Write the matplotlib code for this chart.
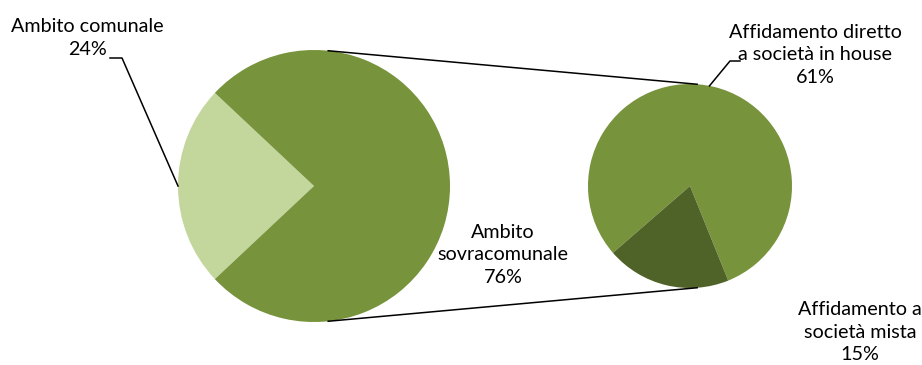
import matplotlib
matplotlib.use("Agg")
import matplotlib.pyplot as plt
import numpy as np

plt.rcParams['font.family'] = ['Lato', 'DejaVu Sans']

# Data
main_labels = ["Ambito comunale", "Ambito\nsovracomunale"]
main_values = [24, 76]
sub_labels = ["Affidamento diretto\na società in house", "Affidamento a\nsocietà mista"]
sub_values = [61, 15]

c_light = "#C3D69B"
c_mid = "#77933C"
c_dark = "#4F6228"

W, H = 922, 365
fig = plt.figure(figsize=(W / 100, H / 100), dpi=100)
ax = fig.add_axes([0, 0, 1, 1])
ax.set_xlim(0, W)
ax.set_ylim(0, H)
ax.set_aspect('equal')
ax.axis('off')

# Main pie
c1 = (314, H - 186)
r1 = 136
start1 = 180 - main_values[0] / sum(main_values) * 360 / 2
ax.pie(main_values, colors=[c_light, c_mid], startangle=start1, counterclock=True,
       center=c1, radius=r1, frame=True, wedgeprops=dict(linewidth=0))

# Sub pie
c2 = (690, H - 186)
r2 = 102
start2 = 292
ax.pie(sub_values, colors=[c_mid, c_dark], startangle=start2, counterclock=True,
       center=c2, radius=r2, frame=True, wedgeprops=dict(linewidth=0))
ax.set_xlim(0, W)
ax.set_ylim(0, H)
ax.axis('off')

# connector lines
for a1, a2 in [(84, 86), (-84, -86)]:
    p1 = (c1[0] + r1 * np.cos(np.radians(a1)), c1[1] + r1 * np.sin(np.radians(a1)))
    p2 = (c2[0] + r2 * np.cos(np.radians(a2)), c2[1] + r2 * np.sin(np.radians(a2)))
    ax.plot([p1[0], p2[0]], [p1[1], p2[1]], color='black', lw=1.1)

fs = 14.2
ls = 1.42
# Labels
ax.text(87, H - 38, f"{main_labels[0]}\n{main_values[0]}%", ha='center', va='center',
        fontsize=fs, linespacing=ls, color='black')
ax.text(503, H - 255, f"{main_labels[1]}\n{main_values[1]}%", ha='center', va='center',
        fontsize=fs, linespacing=ls, color='black')
ax.text(815, H - 55, f"{sub_labels[0]}\n{sub_values[0]}%", ha='center', va='center',
        fontsize=fs, linespacing=ls, color='black')
ax.text(860, H - 332, f"{sub_labels[1]}\n{sub_values[1]}%", ha='center', va='center',
        fontsize=fs, linespacing=ls, color='black')

# leader lines
ax.plot([110, 122, c1[0] - r1], [H - 58, H - 58, c1[1]], color='black', lw=1.1)
a = np.radians(79)
ax.plot([740, 730, c2[0] + r2 * np.cos(a)], [H - 61, H - 61, c2[1] + r2 * np.sin(a)],
        color='black', lw=1.1)

fig.savefig("out.png", dpi=100)
